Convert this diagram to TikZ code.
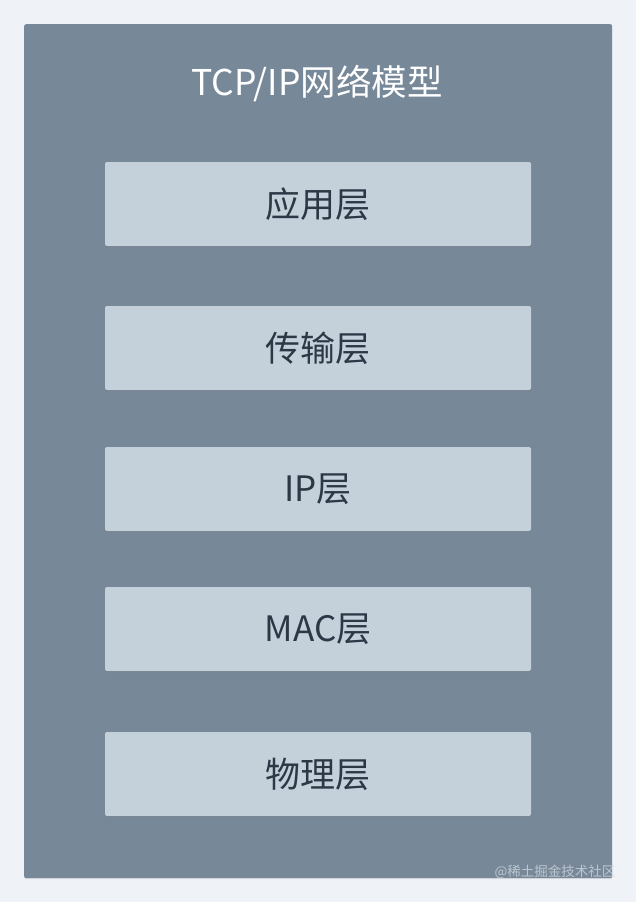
\documentclass[tikz,border=0pt]{standalone}
\usepackage{fontspec}
\setmainfont{Noto Sans CJK SC}
\usetikzlibrary{shadows}
\definecolor{pagebg}{HTML}{EFF3F7}
\definecolor{panelbg}{HTML}{778899}
\definecolor{boxbg}{HTML}{C4D0DA}
\definecolor{boxtext}{HTML}{2B3845}
\definecolor{wmark}{HTML}{D0D6DC}
\tikzset{
  layerbox/.style={fill=boxbg, rounded corners=2pt, minimum width=426pt, minimum height=84pt, inner sep=0pt,
    text=boxtext, font=\fontsize{35}{40}\selectfont,
    drop shadow={shadow xshift=0pt, shadow yshift=-1pt, opacity=0.25, fill=black!60}},
}
\begin{document}
\begin{tikzpicture}[x=1pt,y=-1pt]
\useasboundingbox[fill=pagebg] (0,0) rectangle (636,902);
\node[fill=panelbg, rounded corners=2pt, minimum width=588pt, minimum height=854pt, inner sep=0pt, anchor=north west,
  drop shadow={shadow xshift=0pt, shadow yshift=-1pt, opacity=0.15, fill=black!50}] (panel) at (24,24) {};
\node[text=white, font=\fontsize{35.5}{40}\selectfont] (title) at (317,84) {TCP/IP网络模型};
\node[layerbox] (app) at (318,204) {应用层};
\node[layerbox] (trans) at (318,348) {传输层};
\node[layerbox] (ip) at (318,489) {IP层};
\node[layerbox] (mac) at (318,629) {MAC层};
\node[layerbox] (phy) at (318,774) {物理层};
\node[text=wmark, opacity=0.8, font=\fontsize{13.5}{15}\selectfont, anchor=east] (wm) at (619,872) {@稀土掘金技术社区};
\end{tikzpicture}
\end{document}
